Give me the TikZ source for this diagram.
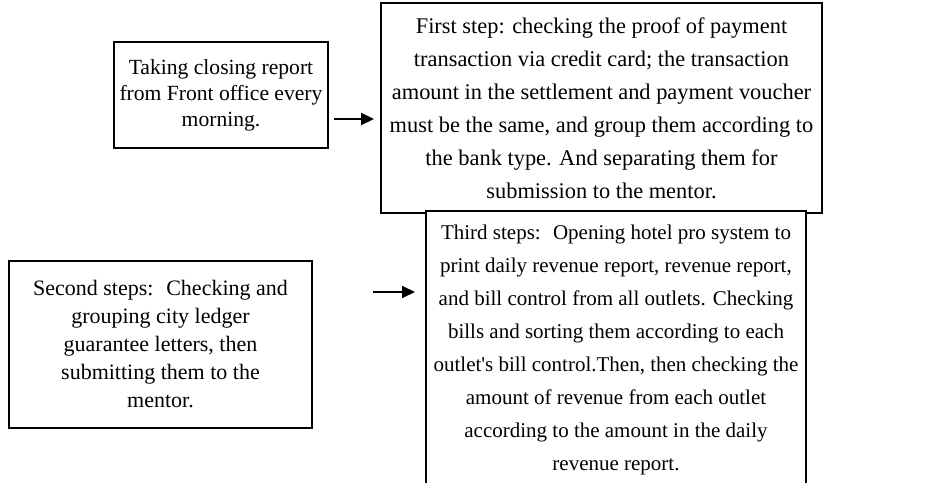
\documentclass[tikz,border=0pt]{standalone}
\usepackage{fontspec}
\setmainfont{Liberation Serif}
\usetikzlibrary{arrows.meta}
\begin{document}
\begin{tikzpicture}[x=1pt,y=-1pt,
  box/.style={draw, line width=2pt, fill=white, align=center, inner sep=0pt},
  arr/.style={line width=2pt, -{Triangle[length=13pt,width=12pt]}}]
\useasboundingbox (0,0) rectangle (928,482);
\fill[white] (0,0) rectangle (928,482);

% step boxes
\node[box, font=\fontsize{21.6}{26}\selectfont, minimum width=214pt, minimum height=106pt] (b1) at (221,95)
  {Taking closing report\\from Front office every\\morning.};

\node[box, font=\fontsize{22.4}{33}\selectfont, minimum width=441pt, minimum height=210pt] (b2) at (601.5,108)
  {First step: checking the proof of payment\\transaction via credit card; the transaction\\amount in the settlement and payment voucher\\must be the same, and group them according to\\the bank type. And separating them for\\submission to the mentor.};

\node[box, font=\fontsize{22}{28}\selectfont, minimum width=303pt, minimum height=167pt] (b3) at (160.5,344.5)
  {Second steps:~ Checking and\\grouping city ledger\\guarantee letters, then\\submitting them to the\\mentor.};

\node[box, font=\fontsize{21}{33}\selectfont, anchor=north, minimum width=380pt, inner ysep=14pt] (b4) at (616,210)
  {Third steps:~ Opening hotel pro system to\\print daily revenue report, revenue report,\\and bill control from all outlets. Checking\\bills and sorting them according to each\\outlet\textquotesingle s bill control.Then, then checking the\\amount of revenue from each outlet\\according to the amount in the daily\\revenue report.};

% connectors
\coordinate (s1) at (b1.east |- 0,119);
\draw[arr, shorten <=5pt, shorten >=6pt] (s1) -- (s1 -| b2.west);
\coordinate (s2) at (b3.east |- 0,292);
\draw[arr, shorten <=60pt, shorten >=10pt] (s2) -- (s2 -| b4.west);
\end{tikzpicture}
\end{document}
